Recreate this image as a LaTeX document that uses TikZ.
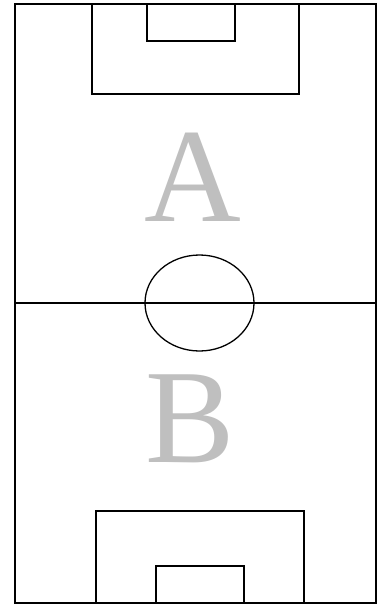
\documentclass[tikz,border=0pt]{standalone}
\usepackage{fontspec}
\setmainfont{Liberation Serif}
\begin{document}
\begin{tikzpicture}[x=1pt,y=-1pt]
\tikzset{
  pitchline/.style={draw=black,line width=1.3pt},
  teamlabel/.style={text=black!25,inner sep=0pt,font=\fontsize{134}{134}\selectfont}
}
\useasboundingbox[fill=white] (0,0) rectangle (386,605);

\draw[pitchline] (15,4) rectangle (376,603);
\draw[pitchline] (15,303) -- (376,303);
\draw[pitchline] (199.5,303) ellipse [x radius=54.5,y radius=48];

\draw[pitchline] (92,4) rectangle (299,94);
\draw[pitchline] (147,4) rectangle (235,41);

\draw[pitchline] (96,603) rectangle (304,511);
\draw[pitchline] (156,603) rectangle (244,566);

\node[teamlabel,anchor=base] (teamA) at (193,221) {A};
\node[teamlabel,anchor=base] (teamB) at (190.5,462) {B};
\end{tikzpicture}
\end{document}
